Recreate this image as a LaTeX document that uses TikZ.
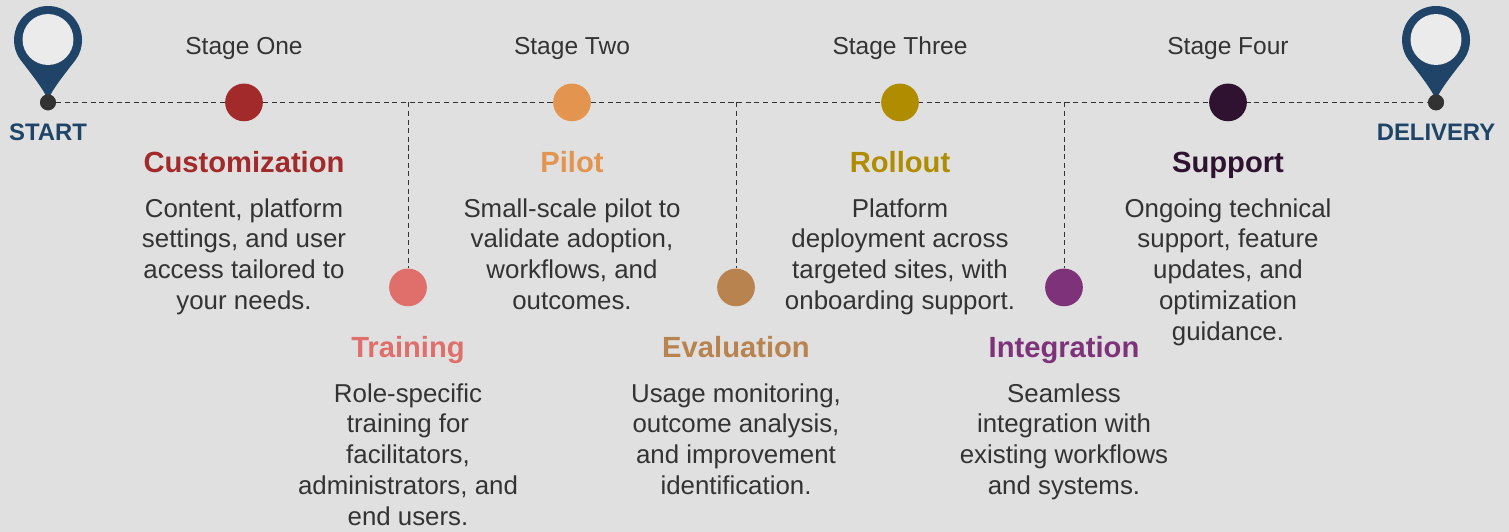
\documentclass[tikz,border=0pt]{standalone}
\usepackage{fontspec}
\setmainfont{Liberation Sans}
\definecolor{pagegray}{HTML}{E0E0E0}
\definecolor{pinblue}{HTML}{1F4468}
\definecolor{pinface}{HTML}{EBEBEB}
\definecolor{dotdark}{HTML}{333333}
\definecolor{textgray}{HTML}{333333}
\definecolor{cust}{HTML}{A32A2A}
\definecolor{train}{HTML}{E06F6B}
\definecolor{pilot}{HTML}{E39550}
\definecolor{evalu}{HTML}{B9834F}
\definecolor{roll}{HTML}{B08D00}
\definecolor{integ}{HTML}{7E327A}
\definecolor{supp}{HTML}{2F1230}
\tikzset{
  px/.style={x=0.0265cm,y=-0.0265cm},
  stagedot/.style={circle,minimum size=1cm,inner sep=0pt},
  stagename/.style={text=textgray,font=\fontsize{18.5}{22}\selectfont},
  stagehead/.style={font=\fontsize{22}{25}\selectfont\bfseries},
  stagebody/.style={text=textgray,align=center,inner sep=0pt,font=\fontsize{19.5}{23.3}\selectfont},
  endlabel/.style={text=pinblue,font=\fontsize{18}{21}\selectfont\bfseries},
  pindot/.style={circle,fill=dotdark,minimum size=0.42cm,inner sep=0pt},
  pinface/.style={circle,fill=pinface,minimum size=1.35cm,inner sep=0pt},
  guide/.style={dash pattern=on 3.8pt off 2.7pt,draw=dotdark,line width=0.75pt}
}
\begin{document}
\begin{tikzpicture}[px]
  \useasboundingbox[fill=pagegray] (0,0) rectangle (1509,532);
  % timeline anchors
  \coordinate (lineA) at (408,102.4);
  \coordinate (lineB) at (736,102.4);
  \coordinate (lineC) at (1064,102.4);
  \node[pindot] (start) at (48,102.4) {};
  \node[pindot] (delivery) at (1436,102.4) {};
  \draw[guide] (start) -- (delivery);
  % upper row
  \node[stagedot,fill=cust] (dot1) at (244,102.4) {};
  \node[stagedot,fill=pilot] (dot3) at (572,102.4) {};
  \node[stagedot,fill=roll] (dot5) at (900,102.4) {};
  \node[stagedot,fill=supp] (dot7) at (1228,102.4) {};
  % lower row
  \node[stagedot,fill=train] (dot2) at (408,287.4) {};
  \node[stagedot,fill=evalu] (dot4) at (736,287.4) {};
  \node[stagedot,fill=integ] (dot6) at (1064,287.4) {};
  \draw[guide] (lineA) -- (dot2);
  \draw[guide] (lineB) -- (dot4);
  \draw[guide] (lineC) -- (dot6);
  \node[stagename,anchor=base] (name1) at (244,55) {Stage One};
  \node[stagename,anchor=base] (name2) at (572,55) {Stage Two};
  \node[stagename,anchor=base] (name3) at (900,55) {Stage Three};
  \node[stagename,anchor=base] (name4) at (1228,55) {Stage Four};
  \node[stagehead,anchor=base,text=cust] (head1) at (244,173) {Customization};
  \node[stagehead,anchor=base,text=pilot] (head3) at (572,173) {Pilot};
  \node[stagehead,anchor=base,text=roll] (head5) at (900,173) {Rollout};
  \node[stagehead,anchor=base,text=supp] (head7) at (1228,173) {Support};
  \node[stagehead,anchor=base,text=train] (head2) at (408,358) {Training};
  \node[stagehead,anchor=base,text=evalu] (head4) at (736,358) {Evaluation};
  \node[stagehead,anchor=base,text=integ] (head6) at (1064,358) {Integration};
  \node[stagebody,anchor=north] (body1) at (244,198) {Content, platform\\settings, and user\\access tailored to\\your needs.};
  \node[stagebody,anchor=north] (body3) at (572,198) {Small-scale pilot to\\validate adoption,\\workflows, and\\outcomes.};
  \node[stagebody,anchor=north] (body5) at (900,198) {Platform\\deployment across\\targeted sites, with\\onboarding support.};
  \node[stagebody,anchor=north] (body7) at (1228,198) {Ongoing technical\\support, feature\\updates, and\\optimization\\guidance.};
  \node[stagebody,anchor=north] (body2) at (408,383) {Role-specific\\training for\\facilitators,\\administrators, and\\end users.};
  \node[stagebody,anchor=north] (body4) at (736,383) {Usage monitoring,\\outcome analysis,\\and improvement\\identification.};
  \node[stagebody,anchor=north] (body6) at (1064,383) {Seamless\\integration with\\existing workflows\\and systems.};
  % pins
  \foreach \px/\nm in {48/startpin,1436/deliverypin}{
    \fill[pinblue] (\px,100) .. controls (\px-4,90) and (\px-15,76) .. (\px-27.8,59.5)
      arc[start angle=145,end angle=395,radius=34] .. controls (\px+15,76) and (\px+4,90) .. (\px,100) -- cycle;
    \node[pinface] (\nm) at (\px,39.5) {};
  }
  \node[pindot] at (start) {};
  \node[pindot] at (delivery) {};
  \node[endlabel,anchor=base] (startlabel) at (48,141) {START};
  \node[endlabel,anchor=base] (deliverylabel) at (1436,141) {DELIVERY};
\end{tikzpicture}
\end{document}
